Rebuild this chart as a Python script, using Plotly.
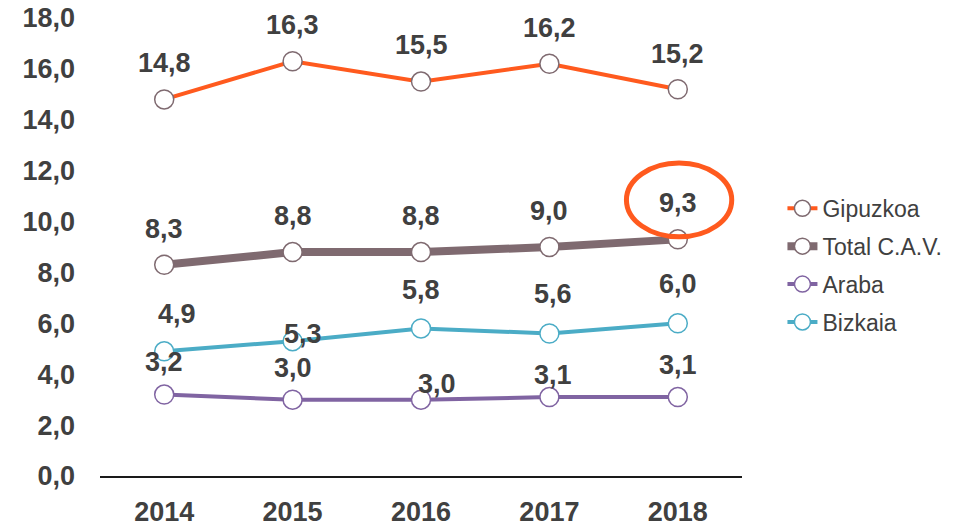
import plotly.graph_objects as go

years = ["2014", "2015", "2016", "2017", "2018"]
gipuzkoa = [14.8, 16.3, 15.5, 16.2, 15.2]
total_cav = [8.3, 8.8, 8.8, 9.0, 9.3]
araba = [3.2, 3.0, 3.0, 3.1, 3.1]
bizkaia = [4.9, 5.3, 5.8, 5.6, 6.0]
y_ticks = [0, 2, 4, 6, 8, 10, 12, 14, 16, 18]

FONT = "Liberation Sans, Arial, sans-serif"
TXT = "#404040"

series = [
    # name, values, line color, marker outline, line width, label offsets (dx, dy)
    ("Gipuzkoa", gipuzkoa, "#FF5A1E", "#7F6A70", 4,
     [(0, 36), (0, 36), (0, 37), (0, 36), (0, 35)]),
    ("Total C.A.V.", total_cav, "#7F6A70", "#7F6A70", 8,
     [(0, 36), (0, 36), (0, 36), (0, 36), (0, 36)]),
    ("Araba", araba, "#8064A2", "#8064A2", 4,
     [(0, 33), (0, 32), (16, 16), (4, 22), (0, 32)]),
    ("Bizkaia", bizkaia, "#4BACC6", "#4BACC6", 4,
     [(13, 37), (10, 7), (0, 38), (4, 40), (0, 39)]),
]

fig = go.Figure()
annotations = []
for name, vals, col, mcol, lw, offs in series:
    fig.add_trace(go.Scatter(
        x=years, y=vals, name=name, mode="lines+markers",
        legendgroup=name,
        line=dict(color=col, width=lw),
        marker=dict(size=19, color="white", line=dict(color=mcol, width=1.5)),
        hoverinfo="skip",
    ))
    for idx, (yv, (dx, dy)) in enumerate(zip(vals, offs)):
        annotations.append(dict(
            x=idx, y=yv, xref="x", yref="y",
            text=f"{yv:.1f}".replace(".", ","),
            showarrow=False, xshift=dx, yshift=dy,
            font=dict(family=FONT, size=27, color=TXT, weight="bold"),
        ))

fig.add_shape(type="circle", xref="x", yref="y",
              x0=3.6, x1=4.42, y0=9.4, y1=12.3,
              line=dict(color="#FF5A1E", width=5), layer="above")

fig.update_layout(
    width=953, height=526,
    margin=dict(l=92, r=219, t=10, b=58, autoexpand=False),
    paper_bgcolor="white", plot_bgcolor="white",
    font=dict(family=FONT, color=TXT),
    annotations=annotations,
    showlegend=True,
    legend=dict(
        x=1.063, xanchor="left", y=0.46, yanchor="middle",
        font=dict(family=FONT, size=23, color=TXT),
        tracegroupgap=5, bgcolor="rgba(0,0,0,0)",
    ),
    xaxis=dict(
        type="category", categoryarray=years, categoryorder="array",
        range=[-0.5, len(years) - 0.5], autorange=False, automargin=False,
        showgrid=False, ticks="",
        showline=True, linecolor="#1a1a1a", linewidth=1.5,
        tickfont=dict(family=FONT, size=27, color=TXT, weight="bold"),
        ticklabelstandoff=11, zeroline=False, ticklabeloverflow="allow",
    ),
    yaxis=dict(
        range=[0, 18], autorange=False, automargin=False, tickvals=y_ticks,
        ticktext=[f"{v:.1f}".replace(".", ",") for v in y_ticks],
        showgrid=False, zeroline=False, showline=False, ticks="",
        tickfont=dict(family=FONT, size=27, color=TXT, weight="bold"),
        ticklabelstandoff=24, ticklabeloverflow="allow",
    ),
)

fig.write_html("out.html")
